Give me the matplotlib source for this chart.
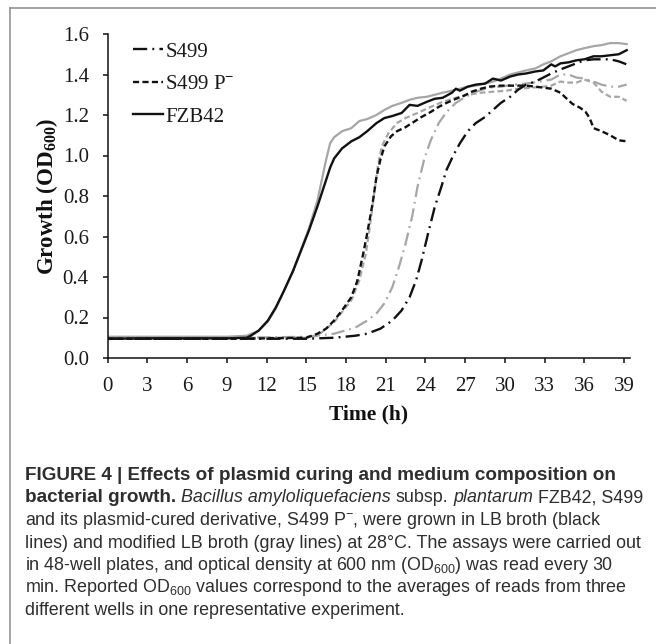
import matplotlib
matplotlib.use('Agg')
import matplotlib.pyplot as plt
from matplotlib.lines import Line2D

plt.rcParams['font.family'] = 'Liberation Serif'
plt.rcParams['mathtext.fontset'] = 'custom'
plt.rcParams['mathtext.rm'] = 'Liberation Sans'
plt.rcParams['mathtext.it'] = 'Liberation Sans:italic'
plt.rcParams['mathtext.bf'] = 'Liberation Serif:bold'

# ---------------- data (time in h, OD600) ----------------
fzb42_lb_t = [0, 3, 6, 9, 10.5, 10.8, 11.4, 12.1, 12.7, 13.3, 14.0, 14.6, 15.2, 15.85, 16.5, 16.8, 17.1,
              17.7, 18.4, 19.0, 19.6, 20.3, 20.9, 21.5, 22.2, 22.8, 23.4, 24.1, 24.7, 25.3, 26.0, 26.3,
              26.6, 27.2, 27.8, 28.5, 29.1, 29.7, 30.4, 31.0, 31.6, 32.3, 32.9, 33.5, 33.8, 34.2, 34.8,
              35.4, 36.0, 36.7, 37.3, 37.95, 38.6, 39.2]
fzb42_lb_od = [0.095, 0.097, 0.097, 0.097, 0.10, 0.11, 0.135, 0.185, 0.25, 0.33, 0.43, 0.53, 0.63, 0.75,
               0.88, 0.94, 0.985, 1.035, 1.07, 1.09, 1.12, 1.16, 1.185, 1.195, 1.21, 1.25, 1.245, 1.265,
               1.28, 1.285, 1.31, 1.33, 1.32, 1.34, 1.35, 1.355, 1.38, 1.37, 1.39, 1.40, 1.405, 1.415,
               1.42, 1.45, 1.44, 1.455, 1.46, 1.47, 1.475, 1.49, 1.49, 1.495, 1.50, 1.52]

fzb42_mlb_t = [0, 3, 6, 9, 10.5, 11.4, 12.1, 12.7, 13.3, 14.0, 14.6, 15.2, 15.85, 16.5, 16.8, 17.1, 17.7,
               18.4, 19.0, 19.6, 20.3, 20.9, 21.5, 22.2, 22.8, 23.4, 24.1, 24.7, 25.3, 26.0, 26.6, 27.2,
               27.8, 28.5, 29.1, 29.7, 30.4, 31.0, 31.6, 32.3, 32.9, 33.5, 34.2, 34.8, 35.4, 36.0, 36.7,
               37.3, 37.95, 38.6, 39.2]
fzb42_mlb_od = [0.105, 0.105, 0.105, 0.105, 0.11, 0.135, 0.18, 0.245, 0.33, 0.43, 0.535, 0.64, 0.78,
                0.98, 1.06, 1.09, 1.12, 1.135, 1.17, 1.18, 1.20, 1.225, 1.245, 1.26, 1.275, 1.285, 1.29,
                1.30, 1.31, 1.32, 1.33, 1.34, 1.345, 1.355, 1.365, 1.38, 1.40, 1.41, 1.42, 1.43, 1.45,
                1.465, 1.49, 1.505, 1.52, 1.53, 1.54, 1.545, 1.555, 1.555, 1.55]

s499p_lb_t = [0, 5, 10, 15, 15.85, 16.5, 17.1, 17.7, 18.4, 18.85, 19.3, 19.6, 20.0, 20.3, 20.6, 20.9,
              21.4, 21.85, 22.5, 23.1, 23.7, 24.4, 25.0, 25.6, 26.3, 26.9, 27.5, 28.2, 28.8, 29.7, 30.7,
              31.6, 32.3, 32.9, 33.5, 34.2, 34.6, 35.1, 35.7, 36.1, 36.4, 36.7, 37.3, 37.95, 38.6, 39.2]
s499p_lb_od = [0.095, 0.095, 0.095, 0.10, 0.12, 0.145, 0.185, 0.235, 0.30, 0.38, 0.515, 0.615, 0.76,
               0.895, 0.98, 1.045, 1.095, 1.12, 1.14, 1.165, 1.19, 1.215, 1.24, 1.26, 1.28, 1.295, 1.315,
               1.33, 1.34, 1.345, 1.345, 1.345, 1.34, 1.335, 1.33, 1.31, 1.285, 1.255, 1.235, 1.215,
               1.185, 1.135, 1.12, 1.10, 1.075, 1.07]

s499p_mlb_t = [0, 5, 10, 15, 15.85, 17.1, 18.4, 19.0, 19.5, 19.8, 20.1, 20.4, 20.7, 21.2, 21.85, 22.5,
               23.4, 24.4, 25.3, 26.3, 27.2, 28.2, 29.1, 30.1, 31.0, 32.0, 32.9, 33.5, 34.2, 34.8, 35.4,
               36.0, 36.7, 37.3, 37.95, 38.6, 39.2]
s499p_mlb_od = [0.10, 0.10, 0.10, 0.10, 0.11, 0.177, 0.285, 0.383, 0.515, 0.65, 0.80, 0.945, 1.045, 1.11,
                1.16, 1.185, 1.21, 1.24, 1.265, 1.285, 1.30, 1.31, 1.315, 1.32, 1.33, 1.335, 1.34, 1.345,
                1.365, 1.36, 1.36, 1.375, 1.36, 1.315, 1.29, 1.29, 1.27]

s499_mlb_t = [0, 5, 10, 15, 17.1, 18.7, 19.6, 20.3, 20.9, 21.5, 22.0, 22.5, 23.0, 23.4, 23.9, 24.4, 25.0,
              25.6, 26.3, 26.9, 27.8, 28.8, 29.7, 30.7, 31.6, 32.6, 33.5, 34.2, 34.8, 35.4, 36.0, 36.7,
              37.3, 37.95, 38.6, 39.2]
s499_mlb_od = [0.10, 0.10, 0.10, 0.105, 0.12, 0.15, 0.185, 0.22, 0.27, 0.35, 0.45, 0.565, 0.70, 0.845,
               0.98, 1.075, 1.16, 1.215, 1.26, 1.285, 1.315, 1.335, 1.34, 1.35, 1.355, 1.365, 1.375, 1.40,
               1.40, 1.385, 1.38, 1.365, 1.35, 1.34, 1.34, 1.35]

s499_lb_t = [0, 5, 10, 15, 17.1, 18.7, 19.6, 20.6, 21.5, 22.2, 22.8, 23.3, 23.7, 24.2, 24.7, 25.2, 25.6,
             26.1, 26.6, 27.2, 27.8, 28.5, 29.1, 29.7, 30.4, 31.0, 31.6, 32.3, 32.9, 33.5, 34.2, 34.8,
             35.4, 36.0, 36.7, 37.3, 37.95, 38.6, 39.2]
s499_lb_od = [0.095, 0.095, 0.095, 0.095, 0.10, 0.11, 0.12, 0.145, 0.185, 0.235, 0.30, 0.385, 0.48, 0.615,
              0.745, 0.845, 0.93, 1.0, 1.06, 1.12, 1.16, 1.19, 1.225, 1.26, 1.29, 1.325, 1.35, 1.365,
              1.385, 1.405, 1.425, 1.44, 1.455, 1.47, 1.475, 1.475, 1.475, 1.465, 1.45]

x_ticks = list(range(0, 40, 3))
y_ticks = [0.0, 0.2, 0.4, 0.6, 0.8, 1.0, 1.2, 1.4, 1.6]
legend_labels = ['S499', 'S499 P$^{\\mathbf{-}}$', 'FZB42']

caption_lines = [
    [("FIGURE 4 | Effects of plasmid curing and medium composition on", 'b')],
    [("bacterial growth.", 'b'), (None, None), ("Bacillus amyloliquefaciens", 'i'), (None, None),
     ("subsp.", 'n'), (None, None), ("plantarum", 'i'), (None, None), ("FZB42, S499", 'n')],
    [("and its plasmid-cured derivative, S499 P$^{-}$, were grown in LB broth (black", 'n')],
    [("lines) and modified LB broth (gray lines) at 28°C. The assays were carried out", 'n')],
    [("in 48-well plates, and optical density at 600 nm (OD$_{\\mathrm{600}}$) was read every 30", 'n')],
    [("min. Reported OD$_{\\mathrm{600}}$ values correspond to the averages of reads from three", 'n')],
    [("different wells in one representative experiment.", 'n')],
]

# ---------------- figure ----------------
W, H = 656, 644
fig = plt.figure(figsize=(W / 100, H / 100), dpi=100)
fig.patch.set_facecolor('white')

ax_left, ax_right, ax_top, ax_bottom = 107.7, 630.0, 34.0, 358.0
ax = fig.add_axes([ax_left / W, 1 - ax_bottom / H, (ax_right - ax_left) / W, (ax_bottom - ax_top) / H])

BLACK = '#111111'
GRAY = '#a6a6a6'
dash_style = (2.6, 1.4)
dashdot_style = (6.0, 2.2, 0.8, 2.2)

ax.plot(fzb42_mlb_t, fzb42_mlb_od, color=GRAY, lw=1.6, solid_joinstyle='round')
ax.plot(s499p_mlb_t, s499p_mlb_od, color=GRAY, lw=1.6, dashes=dash_style)
ax.plot(s499_mlb_t, s499_mlb_od, color=GRAY, lw=1.6, dashes=dashdot_style)
ax.plot(fzb42_lb_t, fzb42_lb_od, color=BLACK, lw=1.7, solid_joinstyle='round')
ax.plot(s499p_lb_t, s499p_lb_od, color=BLACK, lw=1.7, dashes=dash_style)
ax.plot(s499_lb_t, s499_lb_od, color=BLACK, lw=1.7, dashes=dashdot_style)

ax.set_xlim(0, 39.45)
ax.set_ylim(0, 1.6)
ax.set_xticks(x_ticks)
ax.set_yticks(y_ticks)
ax.set_yticklabels([f"{v:.1f}" for v in y_ticks])
for s in ['top', 'right']:
    ax.spines[s].set_visible(False)
for s in ['left', 'bottom']:
    ax.spines[s].set_linewidth(1.1)
    ax.spines[s].set_color('#111111')
ax.tick_params(axis='both', direction='out', length=3.6, width=1.1, colors='#111111',
               labelsize=15, labelcolor='#1a1a1a')
ax.tick_params(axis='y', pad=10)
ax.tick_params(axis='x', pad=10)

ax.set_xlabel('Time (h)', fontsize=15.5, fontweight='bold', labelpad=6, color='#111111')
ax.set_ylabel('Growth (OD$_{\\mathbf{600}}$)', fontsize=16.5, fontweight='bold', labelpad=2,
              color='#111111')

handles = [Line2D([], [], color=BLACK, lw=1.7, dashes=dashdot_style),
           Line2D([], [], color=BLACK, lw=1.7, dashes=dash_style),
           Line2D([], [], color=BLACK, lw=1.7)]
leg = ax.legend(handles, legend_labels, loc='upper left',
                bbox_to_anchor=((133 - ax_left) / (ax_right - ax_left), (ax_bottom - 42) / (ax_bottom - ax_top)),
                frameon=False, fontsize=15, handlelength=1.45, handletextpad=0.1,
                labelspacing=0.62, borderpad=0, borderaxespad=0)
for t in leg.get_texts():
    t.set_color('#1a1a1a')

# ---------------- frame lines of the figure panel ----------------
fig.add_artist(Line2D([9.5 / W, 1.0], [1 - 7.5 / H, 1 - 7.5 / H], transform=fig.transFigure,
                      color='#8a8a8a', lw=1.1))
fig.add_artist(Line2D([9.5 / W, 9.5 / W], [1 - 7.5 / H, 0], transform=fig.transFigure,
                      color='#8a8a8a', lw=1.1))

# ---------------- caption ----------------
renderer = fig.canvas.get_renderer()
CAP_COLOR = '#2e2e2e'
style_map = {'b': dict(fontweight='bold'), 'i': dict(fontstyle='italic'), 'n': {}}


def text_width(s, size, **kw):
    t = fig.text(0, 0, s, fontsize=size, family='Liberation Sans', **kw)
    w = t.get_window_extent(renderer).width
    t.remove()
    return w


ref_size = 10.0
w4 = text_width(caption_lines[3][0][0], ref_size)
cap_size = ref_size * 617.0 / w4
w1 = text_width(caption_lines[0][0][0], ref_size, fontweight='bold')
bold_size = min(ref_size * 595.0 / w1, cap_size * 1.06)
space_w = text_width('x x', cap_size) - text_width('xx', cap_size)

cap_x0 = 25.0
baselines = [480, 502.5, 525, 547.5, 570, 592.5, 615]
for yb, runs in zip(baselines, caption_lines):
    x = cap_x0
    for s, st in runs:
        if s is None:
            x += space_w
            continue
        size = bold_size if st == 'b' else cap_size
        t = fig.text(x / W, 1 - yb / H, s, fontsize=size, family='Liberation Sans',
                     color=CAP_COLOR, ha='left', va='baseline', **style_map[st])
        bb = t.get_window_extent(renderer)
        x = bb.x1

fig.savefig('out.png', dpi=100, facecolor='white')
